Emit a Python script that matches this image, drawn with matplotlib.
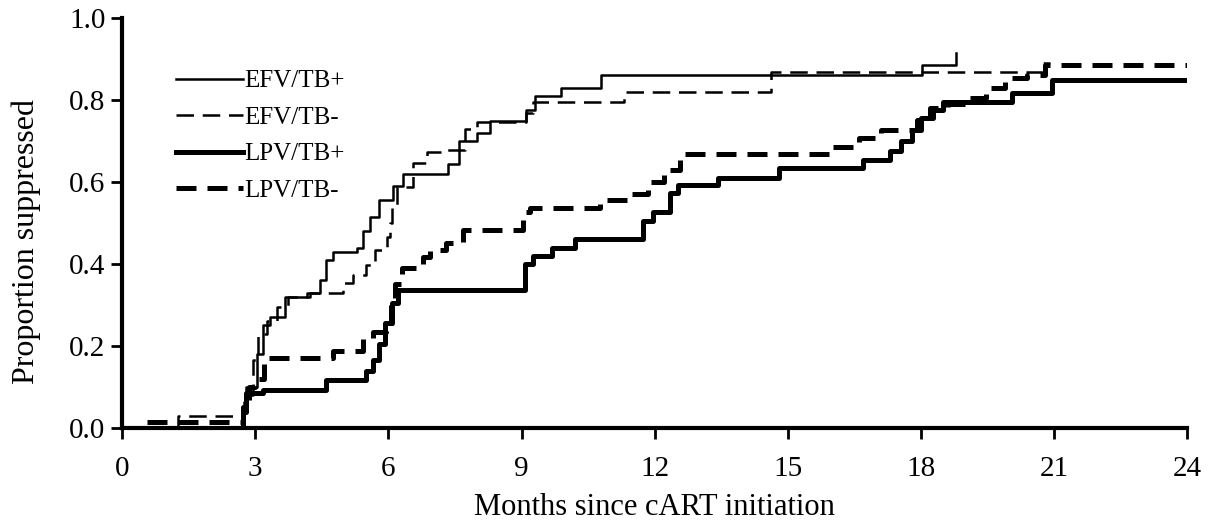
"""Cumulative proportion virally suppressed by regimen / TB status."""
import matplotlib
matplotlib.use('Agg')
import matplotlib.pyplot as plt

plt.rcParams['font.family'] = ['Liberation Serif', 'DejaVu Serif']

# step curves: (month, proportion) at each event time
efv_tbp_t = [0, 2.72, 2.8, 3.04, 3.17, 3.33, 3.67, 4.23, 4.46, 4.6, 4.75, 5.3,
             5.43, 5.58, 5.8, 6.1, 6.33, 7.34, 7.6, 8.0, 8.28, 9.1, 9.3, 9.9,
             10.8, 18.03, 18.8]
efv_tbp_y = [0, 0.05, 0.10, 0.18, 0.25, 0.27, 0.32, 0.33, 0.36, 0.41, 0.43, 0.44,
             0.48, 0.515, 0.555, 0.59, 0.62, 0.645, 0.70, 0.72, 0.75, 0.775, 0.81, 0.83,
             0.86, 0.885, 0.915]

efv_tbm_t = [0, 1.26, 2.75, 2.95, 3.06, 3.26, 3.5, 3.74, 4.16, 4.98, 5.2, 5.5,
             5.7, 5.97, 6.03, 6.08, 6.19, 6.55, 6.87, 7.23, 7.72, 8.0, 9.1, 9.25,
             11.3, 14.63, 20.75, 20.9]
efv_tbm_y = [0, 0.03, 0.08, 0.166, 0.23, 0.26, 0.296, 0.32, 0.33, 0.354, 0.373, 0.398,
             0.434, 0.466, 0.50, 0.544, 0.588, 0.646, 0.673, 0.678, 0.73, 0.746, 0.768, 0.795,
             0.82, 0.868, 0.89, 0.89]

lpv_tbp_t = [0, 2.72, 2.8, 3.17, 4.6, 5.5, 5.65, 5.8, 5.92, 6.08, 6.21, 9.07,
             9.25, 9.68, 10.2, 11.73, 11.96, 12.34, 12.52, 13.42, 14.8, 16.7, 17.3,
             17.55, 17.8, 18.0, 18.26, 18.5, 20.06, 20.96, 24]
lpv_tbp_y = [0, 0.04, 0.085, 0.093, 0.117, 0.14, 0.165, 0.206, 0.255, 0.304, 0.337, 0.40,
             0.42, 0.44, 0.46, 0.505, 0.527, 0.573, 0.593, 0.61, 0.634, 0.654, 0.675,
             0.70, 0.727, 0.756, 0.776, 0.795, 0.817, 0.85, 0.85]

lpv_tbm_t = [0, 0.4, 2.72, 2.85, 3.0, 3.2, 4.75, 5.43, 5.65, 5.95, 6.05, 6.15,
             6.3, 6.78, 6.93, 7.3, 7.68, 9.03, 9.2, 10.76, 11.5, 11.85, 12.2, 12.56,
             15.94, 16.6, 17.1, 17.9, 18.2, 18.6, 19.0, 19.47, 19.9, 20.4, 20.8, 24]
lpv_tbm_y = [0, 0.015, 0.05, 0.10, 0.12, 0.17, 0.188, 0.22, 0.234, 0.25, 0.30, 0.35,
             0.39, 0.417, 0.434, 0.45, 0.483, 0.527, 0.537, 0.556, 0.57, 0.60, 0.63, 0.668,
             0.686, 0.707, 0.727, 0.751, 0.78, 0.79, 0.805, 0.83, 0.853, 0.861, 0.885, 0.885]

x_ticks = [0, 3, 6, 9, 12, 15, 18, 21, 24]
y_ticks = [0.0, 0.2, 0.4, 0.6, 0.8, 1.0]


def main():
    fig = plt.figure(figsize=(12.12, 5.25), dpi=100)
    ax = fig.add_axes([0.1007, 0.1848, 0.8789, 0.7809])

    ax.step(efv_tbp_t, efv_tbp_y, where='post', color='black', lw=1.8,
            label='EFV/TB+')
    ax.step(efv_tbm_t, efv_tbm_y, where='post', color='black', lw=1.8,
            dashes=(7.0, 3.5), label='EFV/TB-')
    ax.step(lpv_tbp_t, lpv_tbp_y, where='post', color='black', lw=3.6,
            label='LPV/TB+')
    ax.step(lpv_tbm_t, lpv_tbm_y, where='post', color='black', lw=3.6,
            dashes=(4.0, 2.2), label='LPV/TB-')

    ax.set_xlim(0, 24)
    ax.set_ylim(0, 1.0)
    ax.set_xticks(x_ticks)
    ax.set_xticklabels([str(v) for v in x_ticks])
    ax.set_yticks(y_ticks)
    ax.set_yticklabels([f'{v:.1f}' for v in y_ticks])

    for side in ('top', 'right'):
        ax.spines[side].set_visible(False)
    for side in ('left', 'bottom'):
        ax.spines[side].set_linewidth(3)
    ax.tick_params(direction='out', length=8, width=2, labelsize=21)
    ax.tick_params(axis='x', pad=12)
    ax.tick_params(axis='y', pad=4)

    ax.set_xlabel('Months since cART initiation', fontsize=22, labelpad=8)
    ax.set_ylabel('Proportion suppressed', fontsize=23)
    ax.yaxis.set_label_coords(-0.076, 0.455)

    ax.legend(loc='upper left', bbox_to_anchor=(0.041, 0.898), frameon=False,
              fontsize=18, handlelength=2.7, handletextpad=0.05,
              labelspacing=0.56, borderaxespad=0)

    fig.savefig('out.png', dpi=100)
    plt.close(fig)


if __name__ == '__main__':
    main()
